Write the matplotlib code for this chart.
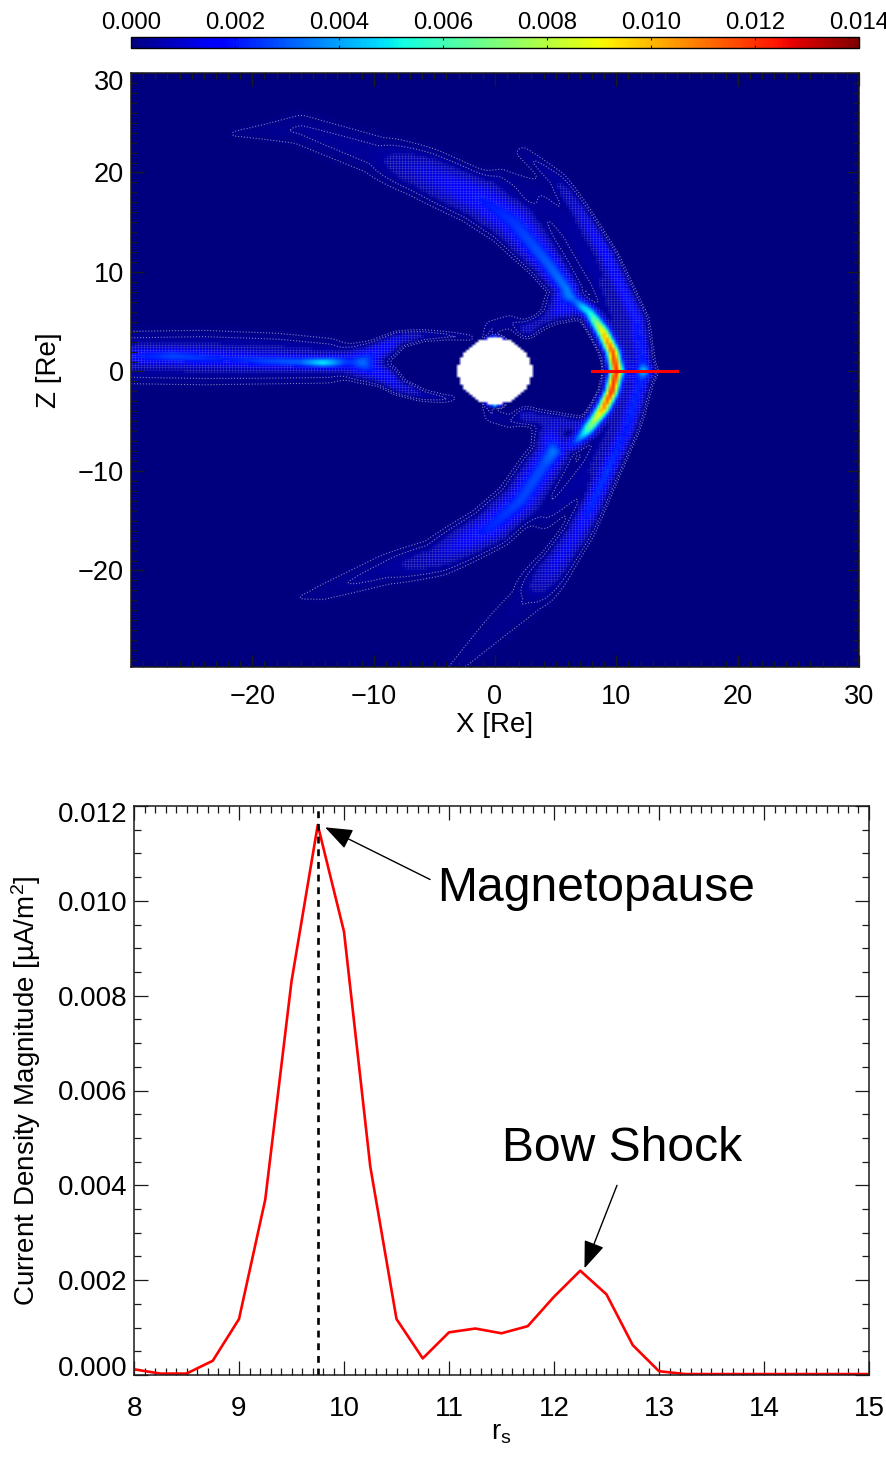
import numpy as np
import matplotlib
matplotlib.use('Agg')
import matplotlib.pyplot as plt
from matplotlib.colors import ListedColormap
from matplotlib.ticker import MultipleLocator, FormatStrFormatter, FuncFormatter
from matplotlib.transforms import ScaledTranslation

plt.rcParams['font.family'] = ['Liberation Sans', 'DejaVu Sans']
plt.rcParams['mathtext.fontset'] = 'custom'
plt.rcParams['mathtext.rm'] = 'Liberation Sans'
plt.rcParams['mathtext.default'] = 'regular'

# ---- lower panel data ----
rs = [8, 8.25, 8.5, 8.75, 9, 9.25, 9.5, 9.75, 10, 10.25, 10.5, 10.75, 11, 11.25, 11.5,
      11.75, 12, 12.25, 12.5, 12.75, 13, 13.25, 13.5, 13.75, 14, 14.25, 14.5, 14.75, 15]
current = [0.00012, 0.00003, 0.00003, 0.0003, 0.00118, 0.0037, 0.0083, 0.0116, 0.00935,
           0.0044, 0.00118, 0.00035, 0.0009, 0.00098, 0.00088, 0.00103, 0.00165, 0.0022,
           0.0017, 0.00063, 0.00008, 0.00002, 0.00002, 0.00002, 0.00002, 0.00002, 0.00002,
           0.00002, 0.00002]
peak_rs = 9.75

# ---- upper panel: ridges of current density ----
# each: x [Re], z [Re], peak value, half-thickness [Re]
mp_x = [6.4, 7.8, 8.9, 9.7, 10.0, 9.6, 8.9, 7.6, 6.4]
mp_z = [7.4, 5.9, 3.9, 1.9, 0.0, -2.1, -3.8, -6.0, -7.4]
mp_a = [0.0018, 0.005, 0.0095, 0.0115, 0.0116, 0.012, 0.0105, 0.0055, 0.002]
mp_w = [0.38, 0.38, 0.38, 0.36, 0.36, 0.36, 0.38, 0.38, 0.38]

up_x = [5.5, 5.9, 4.3, 1.5, -1.2, -5.9, -9.5, -16.0, -21.4]
up_z = [6.6, 8.2, 10.9, 15.0, 17.3, 20.0, 21.6, 24.3, 23.9]
up_a = [0.0013, 0.0034, 0.003, 0.0025, 0.002, 0.0011, 0.00035, 0.00028, 0.00016]
up_w = [0.7, 0.55, 0.7, 1.0, 1.1, 1.2, 1.3, 1.1, 0.35]

lo_x = [4.6, 4.8, 4.0, 2.1, -0.4, -4.8, -8.9, -14.2, -15.9]
lo_z = [-6.5, -8.1, -9.5, -13.0, -15.7, -18.7, -19.9, -22.2, -22.7]
lo_a = [0.0014, 0.0034, 0.0028, 0.0027, 0.0023, 0.0008, 0.00035, 0.0002, 0.00015]
lo_w = [0.7, 0.7, 0.8, 0.85, 0.9, 0.95, 1.0, 0.7, 0.3]

bsu_x = [12.3, 11.7, 9.2, 7.0, 5.1, 2.3]
bsu_z = [0.0, 5.2, 11.6, 16.0, 19.3, 22.0]
bsu_a = [0.0021, 0.0019, 0.0018, 0.0011, 0.0004, 0.0002]
bsu_w = [0.42, 0.42, 0.42, 0.42, 0.5, 0.5]

bsl_x = [12.3, 10.9, 9.2, 7.8, 6.8, 5.1, 2.9, 0.2, -2.3, -3.5]
bsl_z = [0.0, -5.8, -10.2, -13.9, -16.2, -19.2, -22.6, -25.6, -28.6, -30.0]
bsl_a = [0.0021, 0.0019, 0.0025, 0.0023, 0.0015, 0.0014, 0.00028, 0.0002, 0.00016, 0.00014]
bsl_w = [0.42, 0.42, 0.45, 0.5, 0.6, 0.7, 1.1, 1.1, 0.9, 0.8]

tail_x = [-30, -26.5, -22, -19, -16, -14.2, -12.5, -10.8]
tail_z = [1.5, 1.5, 1.2, 1.0, 0.9, 0.85, 0.9, 0.9]
tail_a = [0.0012, 0.002, 0.0013, 0.0019, 0.0024, 0.0044, 0.0024, 0.0011]
tail_w = [0.5, 0.5, 0.5, 0.45, 0.4, 0.35, 0.5, 0.9]

base_x = [-30, -24, -18, -14]
base_z = [1.4, 1.4, 1.3, 1.1]
base_a = [0.0007, 0.0008, 0.0008, 0.0007]
base_w = [1.4, 1.4, 1.3, 1.2]

arm1_x = [-10.8, -9.0, -8.0, -6.0, -4.0, -2.0]
arm1_z = [1.2, 2.4, 3.2, 3.6, 3.6, 3.4]
arm1_a = [0.0012, 0.0018, 0.0012, 0.0005, 0.0003, 0.0002]
arm1_w = [0.6, 0.5, 0.4, 0.35, 0.3, 0.25]

arm2_x = [-10.8, -9.0, -8.0, -6.0, -4.3, -3.5]
arm2_z = [0.4, -0.5, -1.5, -2.4, -2.7, -2.7]
arm2_a = [0.0012, 0.0018, 0.0012, 0.0005, 0.0003, 0.0002]
arm2_w = [0.6, 0.5, 0.4, 0.35, 0.3, 0.25]

cu_x = [7.0, 5.1, 2.6]
cu_z = [6.2, 5.9, 4.2]
cu_a = [0.0009, 0.0008, 0.0005]
cu_w = [0.45, 0.45, 0.45]

cl_x = [7.3, 5.1, 2.6]
cl_z = [-5.5, -5.1, -4.5]
cl_a = [0.0009, 0.0008, 0.0005]
cl_w = [0.45, 0.5, 0.5]

domeu_x = [2.6, 1.2, -0.2, -0.5]
domeu_z = [4.2, 5.0, 4.5, 3.4]
domeu_a = [0.0003, 0.00025, 0.00025, 0.0003]
domeu_w = [0.5, 0.5, 0.5, 0.4]

domel_x = [2.6, 1.2, -0.2, -0.5]
domel_z = [-4.5, -5.0, -4.5, -3.4]
domel_a = [0.0003, 0.00025, 0.00025, 0.0003]
domel_w = [0.5, 0.5, 0.5, 0.4]

shu_x = [10.9, 10.6, 8.7, 6.3, 3.5, 0.5]
shu_z = [0.0, 4.0, 9.0, 14.0, 18.0, 19.5]
shu_a = [0.0007, 0.0006, 0.0005, 0.0004, 0.00024, 0.00018]
shu_w = [0.7, 0.75, 0.7, 0.8, 0.9, 0.8]

shl_x = [10.9, 10.6, 8.0, 6.0, 4.0]
shl_z = [0.0, -4.0, -9.5, -12.5, -15.0]
shl_a = [0.0007, 0.0006, 0.0005, 0.0004, 0.00022]
shl_w = [0.7, 0.75, 0.7, 0.7, 0.7]

pole1_x = [-0.6, 0.0, 0.6]
pole1_z = [3.25, 3.35, 3.25]
pole1_a = [0.005, 0.008, 0.005]
pole1_w = [0.1, 0.1, 0.1]

pole2_x = [-0.6, 0.0, 0.6]
pole2_z = [-3.3, -3.4, -3.3]
pole2_a = [0.004, 0.007, 0.004]
pole2_w = [0.1, 0.1, 0.1]

RIDGES = [(mp_x, mp_z, mp_a, mp_w), (up_x, up_z, up_a, up_w), (lo_x, lo_z, lo_a, lo_w),
          (bsu_x, bsu_z, bsu_a, bsu_w), (bsl_x, bsl_z, bsl_a, bsl_w),
          (tail_x, tail_z, tail_a, tail_w), (base_x, base_z, base_a, base_w),
          (arm1_x, arm1_z, arm1_a, arm1_w), (arm2_x, arm2_z, arm2_a, arm2_w),
          (cu_x, cu_z, cu_a, cu_w), (cl_x, cl_z, cl_a, cl_w),
          (domeu_x, domeu_z, domeu_a, domeu_w), (domel_x, domel_z, domel_a, domel_w),
          (shu_x, shu_z, shu_a, shu_w), (shl_x, shl_z, shl_a, shl_w),
          (pole1_x, pole1_z, pole1_a, pole1_w), (pole2_x, pole2_z, pole2_a, pole2_w)]
planet_rx, planet_rz = 3.05, 3.3
cell = 0.25
cbar_ticks = [0.000, 0.002, 0.004, 0.006, 0.008, 0.010, 0.012, 0.014]


def rasterise(xc, zc):
    X, Z = np.meshgrid(xc, zc)
    total = np.zeros_like(X)
    for rx, rz, ra, rw in RIDGES:
        seg = np.r_[0, np.cumsum(np.hypot(np.diff(rx), np.diff(rz)))]
        s = np.arange(0, seg[-1], 0.1)
        sx, sz = np.interp(s, seg, rx), np.interp(s, seg, rz)
        sa, sw = np.interp(s, seg, ra), np.interp(s, seg, rw)
        layer = np.zeros_like(X)
        for a, b, c, d in zip(sx, sz, sa, sw):
            layer = np.maximum(layer, c * np.exp(-((X - a) ** 2 + (Z - b) ** 2) / (2 * d * d)))
        total += layer
    return X, Z, total


xc = np.arange(-30, 30 + cell / 2, cell)
zc = np.arange(-30, 30 + cell / 2, cell)
X, Z, field = rasterise(xc, zc)
inside = (X / planet_rx) ** 2 + (Z / planet_rz) ** 2 < 1
field_m = np.ma.masked_where(inside, field)

W, H = 887, 1457
fig = plt.figure(figsize=(W / 100, H / 100), dpi=100)


def axrect(l, t, r, b):
    return [l / W, 1 - b / H, (r - l) / W, (b - t) / H]


def nudge(label, px_up):
    label.set_transform(label.get_transform() + ScaledTranslation(0, px_up / 100, fig.dpi_scale_trans))


DARK = '#1a1a1a'
cmap = plt.get_cmap('jet').copy()
cmap.set_bad('white')

# ---- map ----
ax = fig.add_axes(axrect(131, 73, 859, 667))
im = ax.imshow(field_m, origin='lower', extent=[-30 - cell / 2, 30 + cell / 2, -30 - cell / 2, 30 + cell / 2],
               cmap=cmap, vmin=0, vmax=0.014, interpolation='bilinear', aspect='auto')
xe = np.r_[xc - cell / 2, xc[-1] + cell / 2]
ze = np.r_[zc - cell / 2, zc[-1] + cell / 2]
hatch_off = (field < 0.0005) | (field > 0.002) | inside
hatch = np.ma.masked_where(hatch_off, field)
ax.pcolor(xe, ze, hatch, cmap=ListedColormap([(0, 0, 0, 0)]), edgecolors=(0.6, 0.6, 0.85, 0.28), linewidth=0.28)
ax.contour(X, Z, field_m, levels=[0.00012, 0.00026], colors='#7f7fc0', linewidths=0.8, linestyles=':')
ax.plot(rs, np.zeros(len(rs)), color='#ff0000', lw=2.2)
ax.set_xlim(-30, 30)
ax.set_ylim(-29.7, 30)
ax.xaxis.set_major_locator(MultipleLocator(10))
ax.xaxis.set_minor_locator(MultipleLocator(1))
ax.yaxis.set_major_locator(MultipleLocator(10))
ax.yaxis.set_minor_locator(MultipleLocator(1))
ax.xaxis.set_major_formatter(FuncFormatter(lambda v, p: '' if v < -29 else f'{v:.0f}'.replace('-', '\u2212')))
ax.yaxis.set_major_formatter(FuncFormatter(lambda v, p: f'{v:.0f}'.replace('-', '\u2212')))
ax.tick_params(which='both', direction='in', top=True, right=True, colors=DARK, width=0.9, labelsize=19.5)
ax.tick_params(which='major', length=9, labelcolor='black')
ax.tick_params(which='minor', length=4.5)
ax.tick_params(axis='x', which='major', pad=12)
ax.tick_params(axis='y', which='major', pad=5)
ax.set_xlabel('X [Re]', fontsize=20)
ax.set_ylabel('Z [Re]', fontsize=20)
ax.xaxis.set_label_coords(0.5, -0.076)
ax.yaxis.set_label_coords(-0.095, 0.5)
for sp in ax.spines.values():
    sp.set_color(DARK)
    sp.set_linewidth(1.1)
fig.canvas.draw()
for tick in ax.yaxis.get_major_ticks():
    if abs(tick.get_loc() - 30) < 0.01:
        nudge(tick.label1, -7)

# ---- colour bar ----
cax = fig.add_axes(axrect(131, 37, 859, 48))
cb = fig.colorbar(im, cax=cax, orientation='horizontal', ticklocation='top')
cb.set_ticks(cbar_ticks)
cb.ax.xaxis.set_major_formatter(FormatStrFormatter('%.3f'))
cb.ax.tick_params(direction='in', length=2.5, width=0.8, labelsize=17.3, pad=2, top=True, bottom=True, colors=DARK)
cb.ax.tick_params(labelcolor='black')
cb.outline.set_linewidth(1.0)
cb.outline.set_edgecolor('black')

# ---- profile ----
ax2 = fig.add_axes(axrect(134, 806, 869, 1375))
ax2.plot(rs, current, color='#ff0000', lw=1.9)
ax2.axvline(peak_rs, color='black', lw=1.9, dashes=(2.6, 2.2))
ax2.set_xlim(8, 15)
ax2.set_ylim(0, 0.012)
ax2.xaxis.set_major_locator(MultipleLocator(1))
ax2.xaxis.set_minor_locator(MultipleLocator(0.1))
ax2.yaxis.set_major_locator(MultipleLocator(0.002))
ax2.yaxis.set_minor_locator(MultipleLocator(0.0005))
ax2.yaxis.set_major_formatter(FormatStrFormatter('%.3f'))
ax2.tick_params(which='both', direction='in', top=True, right=True, colors=DARK, width=0.9, labelsize=20)
ax2.tick_params(which='major', length=10, labelcolor='black')
ax2.tick_params(which='minor', length=5)
ax2.tick_params(axis='x', which='major', pad=15)
ax2.tick_params(axis='y', which='major', pad=5)
ax2.set_xlabel('r$_s$', fontsize=20)
ax2.set_ylabel('Current Density Magnitude [µA/m$^2$]', fontsize=20)
ax2.xaxis.set_label_coords(0.5, -0.079)
ax2.yaxis.set_label_coords(-0.124, 0.5)
for sp in ax2.spines.values():
    sp.set_color(DARK)
    sp.set_linewidth(1.1)
fig.canvas.draw()
for tick in ax2.yaxis.get_major_ticks():
    if abs(tick.get_loc()) < 1e-6:
        nudge(tick.label1, 9)
    if abs(tick.get_loc() - 0.012) < 1e-6:
        nudge(tick.label1, -6)

arrow = dict(arrowstyle='-|>,head_length=1.0,head_width=0.38', mutation_scale=17, color='black',
             lw=1.0, shrinkA=0, shrinkB=0)
ax2.annotate('', xy=(9.82, 0.01155), xytext=(10.82, 0.01045), arrowprops=arrow)
ax2.annotate('', xy=(12.29, 0.00225), xytext=(12.6, 0.00400), arrowprops=arrow)
ax2.text(10.885, 0.0100, 'Magnetopause', fontsize=34.6, color='black', va='baseline', ha='left')
ax2.text(11.505, 0.00452, 'Bow Shock', fontsize=34.6, color='black', va='baseline', ha='left')

fig.savefig('out.png', dpi=100)
